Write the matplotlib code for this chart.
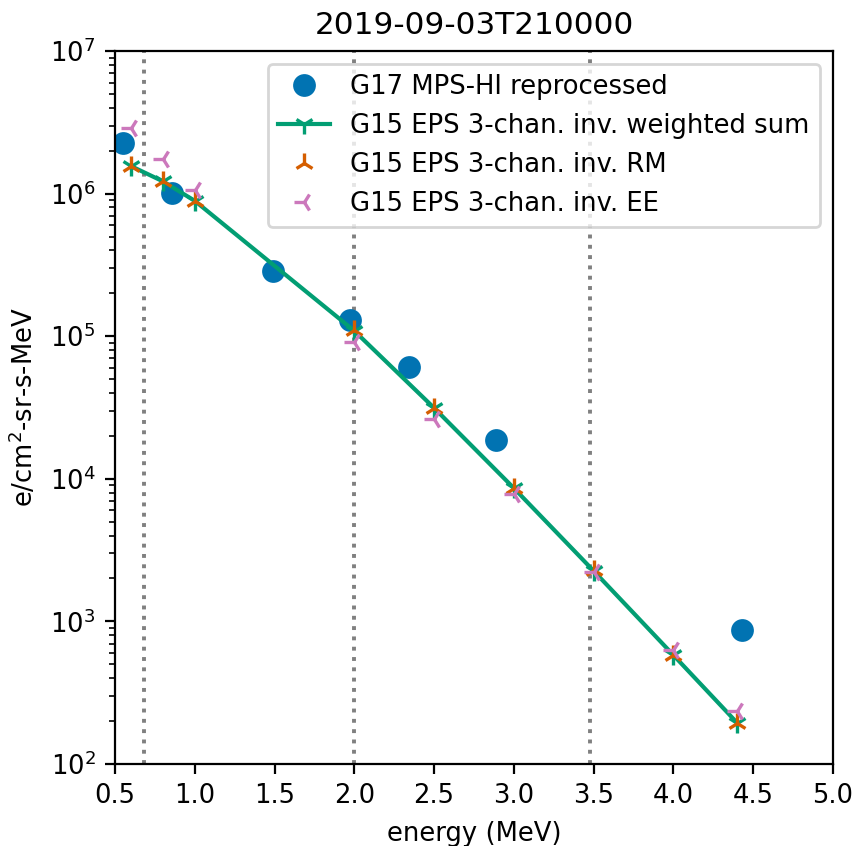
import matplotlib
matplotlib.use("Agg")
import matplotlib.pyplot as plt

plt.rcParams["font.size"] = 9.3
plt.rcParams["axes.titlesize"] = 11.2

title = "2019-09-03T210000"

mps_energy = [0.55, 0.86, 1.49, 1.97, 2.34, 2.89, 4.43]
mps_flux = [2.26e6, 1.01e6, 2.87e5, 1.30e5, 6.1e4, 1.87e4, 8.7e2]

eps_energy = [0.6, 0.8, 1.0, 2.0, 2.5, 3.0, 3.5, 4.0, 4.4]
eps_wsum = [1.56e6, 1.22e6, 8.9e5, 1.09e5, 3.14e4, 8.6e3, 2.26e3, 5.8e2, 1.94e2]
eps_rm = [1.57e6, 1.23e6, 8.9e5, 1.10e5, 3.15e4, 8.6e3, 2.28e3, 5.8e2, 1.95e2]
eps_ee = [2.88e6, 1.75e6, 1.06e6, 9.1e4, 2.63e4, 7.8e3, 2.22e3, 6.3e2, 2.35e2]

boundaries = [0.68, 2.0, 3.48]

c_blue = "#0173b2"
c_green = "#029e73"
c_orange = "#d55e00"
c_pink = "#cc78bc"

fig = plt.figure(figsize=(4.3, 4.23), dpi=200)
ax = fig.add_axes([0.1337, 0.0969, 0.8349, 0.8428])

for b in boundaries:
    ax.axvline(b, color="grey", linestyle=":", linewidth=1.4, zorder=1)

ax.plot(mps_energy, mps_flux, "o", color=c_blue, markersize=7.2, linestyle="none",
        label="G17 MPS-HI reprocessed", zorder=2)
ax.plot(eps_energy, eps_wsum, "-", marker="1", color=c_green, markersize=7.5, mew=1.2,
        linewidth=1.5, label="G15 EPS 3-chan. inv. weighted sum", zorder=3)
ax.plot(eps_energy, eps_rm, linestyle="none", marker="2", color=c_orange, markersize=7.5,
        mew=1.2, label="G15 EPS 3-chan. inv. RM", zorder=4)
ax.plot(eps_energy, eps_ee, linestyle="none", marker="3", color=c_pink, markersize=7.5,
        mew=1.2, label="G15 EPS 3-chan. inv. EE", zorder=4)

ax.set_yscale("log")
ax.set_xlim(0.5, 5.0)
ax.set_ylim(1e2, 1e7)
ax.set_xticks([0.5, 1.0, 1.5, 2.0, 2.5, 3.0, 3.5, 4.0, 4.5, 5.0])
ax.set_xlabel("energy (MeV)")
ax.set_ylabel("e/cm$^2$-sr-s-MeV")
ax.set_title(title)
ax.legend(loc="upper right")

fig.savefig("out.png", dpi=200)
